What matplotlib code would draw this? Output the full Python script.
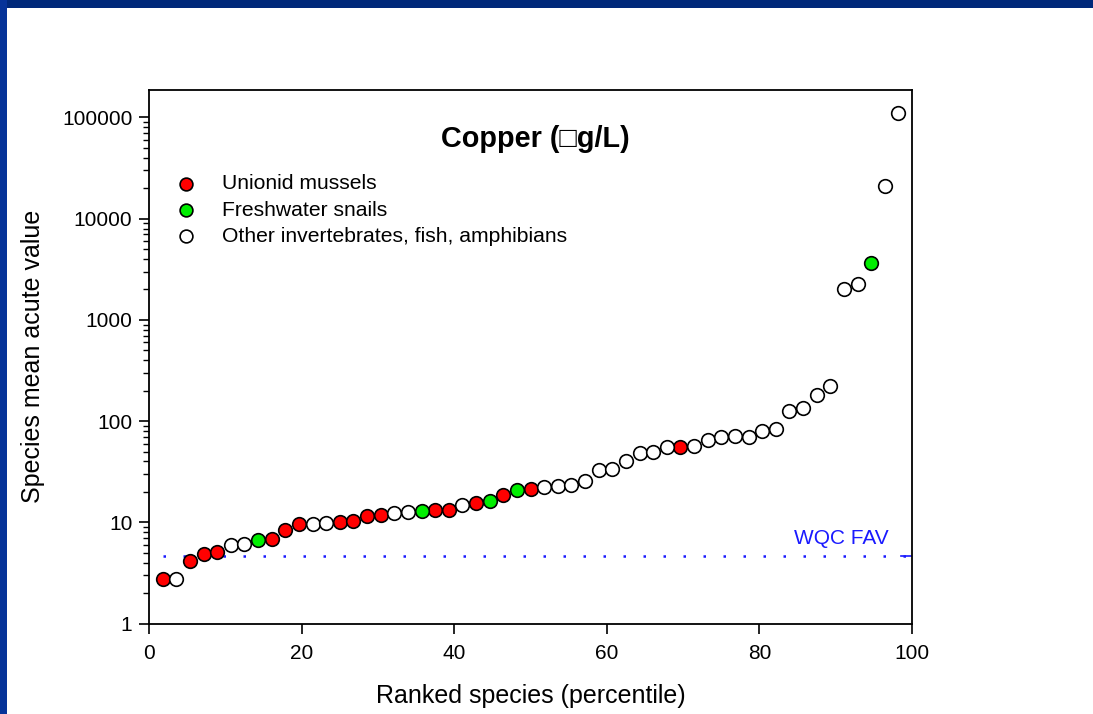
import matplotlib
matplotlib.use("Agg")
import matplotlib.pyplot as plt
from matplotlib.patches import Rectangle
import numpy as np

plt.rcParams['font.family'] = ['Liberation Sans', 'DejaVu Sans']

# ---- data ----
smav = [2.73, 2.73, 4.17, 4.83, 5.09, 6.00, 6.06, 6.73, 6.79, 8.34,
        9.55, 9.69, 9.84, 10.1, 10.3, 11.5, 11.8, 12.3, 12.6, 12.9,
        13.1, 13.2, 14.8, 15.4, 16.3, 18.7, 20.7, 21.3, 22.5, 23.0,
        23.4, 25.4, 33.1, 33.6, 40.6, 48.1, 49.2, 55.9, 55.9, 57.1,
        64.6, 69.2, 70.8, 70.1, 80.4, 84.1, 127, 134, 182, 221,
        2020, 2280, 3650, 21000, 110000]
group = list("UOUUUOOSUU"
             "UOOUUUUOOS"
             "UUOUSUSUOO"
             "OOOOOOOOUO"
             "OOOOOOOOOO"
             "OOSOO")
group_labels = {"U": "Unionid mussels",
                "S": "Freshwater snails",
                "O": "Other invertebrates, fish, amphibians"}
group_colors = {"U": "#ff0000", "S": "#00ee00", "O": "#ffffff"}
fav = 4.64
title = "Copper (\u25a1g/L)"
xlabel = "Ranked species (percentile)"
ylabel = "Species mean acute value"
xticks = [0, 20, 40, 60, 80, 100]
yticks = [1, 10, 100, 1000, 10000, 100000]

n = len(smav)
pct = np.arange(1, n + 1) / (n + 1) * 100.0
vals = np.array(smav)
grp = np.array(group)

# ---- figure ----
W, H = 1093, 714
fig = plt.figure(figsize=(W / 100, H / 100), dpi=100)
fig.patch.set_facecolor("white")
fig.patches.append(Rectangle((0, 1 - 8 / H), 1, 8 / H, transform=fig.transFigure,
                             facecolor="#00287a", edgecolor="none", zorder=0))
fig.patches.append(Rectangle((0, 0), 7 / W, 1, transform=fig.transFigure,
                             facecolor="#063399", edgecolor="none", zorder=0))

ax_l, ax_r, ax_t, ax_b = 149, 912, 90, 623.5
ax = fig.add_axes([ax_l / W, 1 - ax_b / H, (ax_r - ax_l) / W, (ax_b - ax_t) / H])
ax.set_yscale("log")
ax.set_xlim(0, 100)
ytop = 10 ** ((ax_b - ax_t) / 101.2)
ax.set_ylim(1, ytop)

# FAV dotted line
ax.plot([pct[0], 100], [fav, fav], color="#1a1aff", lw=1.8,
        linestyle=(0, (1, 7.0)), zorder=2)
ax.plot([98.6, 100], [fav, fav], color="#1a1aff", lw=1.2, zorder=2)
ax.text(96.9, fav * 1.2, "WQC FAV", color="#1a1aff", fontsize=15,
        ha="right", va="bottom")

for g in ["U", "S", "O"]:
    m = grp == g
    ax.plot(pct[m], vals[m], linestyle="none", marker="o", markersize=9.8,
            markerfacecolor=group_colors[g], markeredgecolor="black",
            markeredgewidth=1.2, zorder=3, clip_on=False)

# legend (manual)
leg_y = [0.824, 0.775, 0.726]
for g, yy in zip(["U", "S", "O"], leg_y):
    ax.plot([0.0486], [yy], transform=ax.transAxes, linestyle="none",
            marker="o", markersize=9.2, markerfacecolor=group_colors[g],
            markeredgecolor="black", markeredgewidth=1.2)
    ax.text(0.0957, yy, group_labels[g], transform=ax.transAxes,
            fontsize=15.2, ha="left", va="center")

ax.text(0.506, 0.908, title, transform=ax.transAxes, fontsize=20.8,
        fontweight="bold", ha="center", va="center")

ax.set_xticks(xticks)
ax.set_xticklabels([str(t) for t in xticks])
ax.set_yticks(yticks)
ax.set_yticklabels([str(t) for t in yticks])
ax.tick_params(axis="both", which="major", direction="out", length=7,
               width=1.2, labelsize=15, colors="black")
ax.tick_params(axis="x", pad=8)
ax.tick_params(axis="y", pad=5)
ax.tick_params(axis="y", which="minor", direction="out", length=4, width=1.0)
ax.tick_params(axis="x", which="minor", bottom=False)
for s in ax.spines.values():
    s.set_linewidth(1.3)

ax.set_xlabel(xlabel, fontsize=18, labelpad=15)
ax.set_ylabel(ylabel, fontsize=18, labelpad=12)

fig.savefig("out.png", dpi=100)
